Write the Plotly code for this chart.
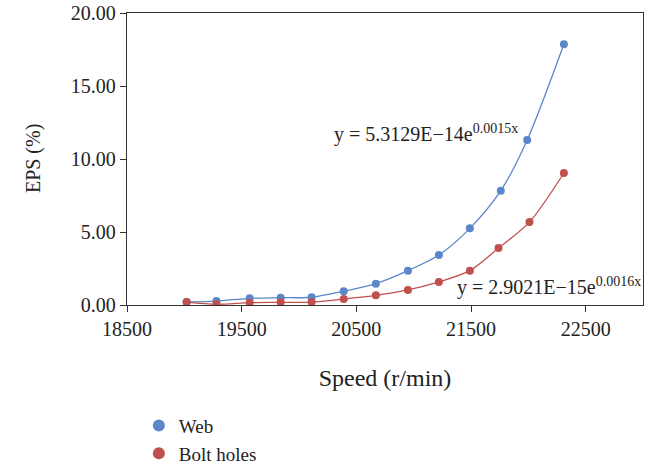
import plotly.graph_objects as go

speed = [19020, 19280, 19570, 19840, 20110, 20390, 20670, 20950, 21220, 21490, 21760, 21990, 22310]
web = [0.21, 0.27, 0.46, 0.50, 0.53, 0.94, 1.46, 2.35, 3.42, 5.25, 7.83, 11.30, 17.86]
bolt = [0.20, 0.05, 0.16, 0.18, 0.20, 0.41, 0.66, 1.03, 1.58, 2.35, 3.90, 5.68, 9.04]
bolt_speed = [19020, 19280, 19570, 19840, 20110, 20390, 20670, 20950, 21220, 21490, 21740, 22010, 22310]

blue = "#5B87CA"
red = "#C0504D"
font = "Liberation Serif"

fig = go.Figure()
fig.add_trace(go.Scatter(x=speed, y=web, mode="lines", line=dict(color=blue, width=1.3, shape="spline", smoothing=0.8), showlegend=False, hoverinfo="skip"))
fig.add_trace(go.Scatter(x=bolt_speed, y=bolt, mode="lines", line=dict(color=red, width=1.3, shape="spline", smoothing=0.8), showlegend=False, hoverinfo="skip"))
fig.add_trace(go.Scatter(x=speed, y=web, mode="markers", name="Web", marker=dict(color=blue, size=8)))
fig.add_trace(go.Scatter(x=bolt_speed, y=bolt, mode="markers", name="Bolt holes", marker=dict(color=red, size=8)))

fig.add_annotation(x=20290, y=11.75, xref="x", yref="y", xanchor="left", yanchor="middle", showarrow=False,
                   text="y = 5.3129E\u221214e<sup>0.0015x</sup>", font=dict(family=font, size=20, color="#222"))
fig.add_annotation(x=21360, y=1.25, xref="x", yref="y", xanchor="left", yanchor="middle", showarrow=False,
                   text="y = 2.9021E\u221215e<sup>0.0016x</sup>", font=dict(family=font, size=20, color="#222"))
fig.add_annotation(x=-0.182, y=0.5, xref="paper", yref="paper", xanchor="center", yanchor="middle", showarrow=False,
                   textangle=-90, text="EPS (%)", font=dict(family=font, size=20, color="#222"))

fig.update_layout(
    width=655, height=468,
    margin=dict(l=127, r=12, t=13, b=163, autoexpand=False),
    paper_bgcolor="white", plot_bgcolor="white",
    font=dict(family=font, size=20, color="#222"),
    showlegend=True,
    legend=dict(x=0.212, y=0.131, xref="container", yref="container", xanchor="left", yanchor="top",
                bgcolor="rgba(0,0,0,0)", font=dict(family=font, size=19), itemsizing="constant",
                tracegroupgap=0, itemwidth=30),
    xaxis=dict(range=[18500, 23000], tick0=18500, dtick=1000, tickformat="d", automargin=True,
               showgrid=False, zeroline=False, showline=True, linecolor="#333", linewidth=1.3, mirror=True,
               ticks="outside", ticklen=6, tickcolor="#333",
               title=dict(text="Speed (r/min)", standoff=30)),
    yaxis=dict(range=[0, 20], dtick=5, tickformat=".2f", automargin=True,
               showgrid=False, zeroline=False, showline=True, linecolor="#333", linewidth=1.3, mirror=True,
               ticks="outside", ticklen=6, tickcolor="#333"),
)

fig.write_html("out.html")
